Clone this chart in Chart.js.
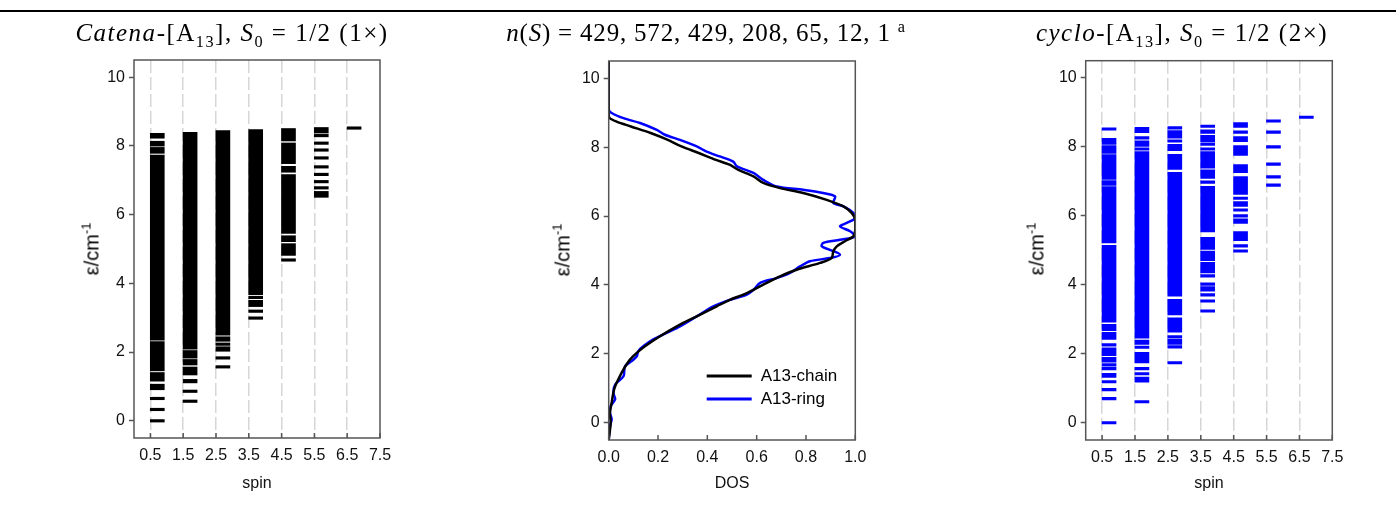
<!DOCTYPE html>
<html>
<head>
<meta charset="utf-8">
<script src="https://cdn.jsdelivr.net/npm/chart.js@4.4.1/dist/chart.umd.min.js"></script>
<style>
  body { margin: 0; background: #fff; }
  #page { position: relative; width: 1396px; height: 506px; overflow: hidden; background: #fff; }
  .rule { position: absolute; left: 0; top: 10px; width: 1396px; height: 2px; background: #000; }
  canvas { position: absolute; top: 0; }
  .title { position: absolute; top: 20px; line-height: 26px; transform: translateX(-50%); white-space: nowrap;
           font-family: "Liberation Serif", serif; font-size: 25px; letter-spacing: 1.5px; color: #000; }
  .title.wide { letter-spacing: 0.8px; }
  .ylab { position: absolute; transform: translate(-50%, -50%) rotate(-90deg); white-space: nowrap;
          font-family: "Liberation Sans", Arial, sans-serif; font-size: 20px; color: #000; }
  sub, sup { font-size: 65%; line-height: 0; }
</style>
</head>
<body>
<div id="page">
  <div class="rule"></div>
  <canvas id="chain" width="350" height="506" style="left:54px"></canvas>
  <canvas id="dos" width="350" height="506" style="left:530px"></canvas>
  <canvas id="ring" width="350" height="506" style="left:1006px"></canvas>

  <div class="title" style="left:232px"><i>Catena</i>-[A<sub>13</sub>], <i>S</i><sub>0</sub> = 1/2 (1×)</div>
  <div class="title wide" style="left:706px"><i>n</i>(<i>S</i>) = 429, 572, 429, 208, 65, 12, 1 <sup>a</sup></div>
  <div class="title" style="left:1182px"><i>cyclo</i>-[A<sub>13</sub>], <i>S</i><sub>0</sub> = 1/2 (2×)</div>

  <div class="ylab" style="left:92px; top:249px">ε/cm<sup>-1</sup></div>
  <div class="ylab" style="left:563px; top:250px">ε/cm<sup>-1</sup></div>
  <div class="ylab" style="left:1037px; top:249px">ε/cm<sup>-1</sup></div>
</div>
<script>
const FONT = '"Liberation Sans", Arial, sans-serif';

const SPINS = [0.5, 1.5, 2.5, 3.5, 4.5, 5.5, 6.5];
const SPIN_TICKS = [0.5, 1.5, 2.5, 3.5, 4.5, 5.5, 6.5, 7.5];
const ENERGY_TICKS = [0, 2, 4, 6, 8, 10];
const DOS_TICKS = [0, 0.2, 0.4, 0.6, 0.8, 1.0];

// energy levels (cm-1) per spin; a pair is a run of levels too dense to tell apart
const chainLevels = [
  [0, 0.33, 0.65, [0.94, 1.03], [1.19, 1.37], [1.49, 2.27], [2.38, 7.70], [7.82, 7.92], [8.03, 8.10], [8.26, 8.33]],
  [0.57, 0.86, [1.14, 1.17], [1.37, 1.53], [1.66, 1.75], [1.86, 2.01], [2.12, 8.36]],
  [1.57, 1.83, [2.06, 2.12], 2.23, [2.35, 2.41], [2.53, 8.41]],
  [2.99, 3.19, [3.36, 3.47], 3.59, [3.71, 8.44]],
  [4.68, [4.85, 5.12], [5.25, 5.35], [5.49, 7.13], [7.27, 7.37], [7.52, 8.05], [8.18, 8.47]],
  [[6.54, 6.64], 6.78, 6.96, 7.17, 7.39, 7.65, 7.88, 8.08, 8.30, [8.41, 8.50]],
  [8.52],
];

const ringLevels = [
  [0, 0.70, 0.96, 1.19, [1.35, 1.40], 1.57, 1.68, [1.79, 1.86], [1.98, 2.14], 2.26, [2.45, 2.59], [2.71, 2.82],
   [2.95, 5.11], [5.25, 6.81], [6.92, 6.99], [7.09, 7.74], [7.85, 8.00], [8.11, 8.21], 8.52],
  [0.61, [1.21, 1.29], 1.42, 1.57, [1.77, 2.01], 2.19, [2.31, 2.36], [2.49, 7.83], 7.94, [8.05, 8.14], 8.26, [8.45, 8.53]],
  [1.74, 2.20, [2.31, 2.38], 2.49, [2.66, 3.01], [3.16, 3.54], [3.71, 7.23], [7.38, 7.75], [7.93, 8.04], 8.17, [8.29, 8.44], 8.55],
  [3.24, 3.53, 3.71, [3.85, 3.91], 4.02, 4.26, [4.38, 4.62], [4.74, 4.94], [5.06, 5.34], [5.57, 6.82], 6.98,
   [7.12, 7.30], [7.42, 7.83], 7.94, 8.08, [8.19, 8.30], [8.43, 8.46], 8.60],
  [4.98, 5.13, [5.32, 5.51], [5.82, 5.88], 6.00, 6.17, [6.31, 6.38], 6.51, [6.66, 7.10], [7.29, 7.45], [7.79, 8.00],
   [8.19, 8.26], 8.43, [8.60, 8.67]],
  [6.89, 7.13, 7.50, 8.00, 8.43, 8.75],
  [8.86],
];

// density of states, normalised, read along energy
const chainEnergy = [10.5, 8.95, 8.84, 8.74, 8.6, 8.41, 8.21, 8.02, 7.83, 7.63, 7.49, 7.34, 7.15, 6.96, 6.81, 6.67,
  6.47, 6.28, 6.09, 5.89, 5.6, 5.41, 5.27, 5.12, 4.98, 4.78, 4.64, 4.44, 4.25, 4.06, 3.86, 3.72, 3.57, 3.38,
  3.09, 2.8, 2.51, 2.22, 2.03, 1.84, 1.55, 1.26, 0.97, 0.58, 0.29, 0, -0.5];
const chainDos = [0, 0, 0.004, 0.032, 0.09, 0.17, 0.24, 0.295, 0.365, 0.435, 0.49, 0.526, 0.587, 0.627, 0.695, 0.789,
  0.884, 0.952, 0.985, 1.0, 1.0, 0.992, 0.958, 0.925, 0.911, 0.904, 0.857, 0.762, 0.695, 0.641, 0.587, 0.546, 0.492, 0.438,
  0.357, 0.276, 0.208, 0.147, 0.114, 0.087, 0.06, 0.039, 0.022, 0.012, 0.005, 0.008, 0];

const ringEnergy = [10.5, 9.1, 8.99, 8.84, 8.7, 8.5, 8.36, 8.21, 8.02, 7.87, 7.73, 7.58, 7.44, 7.25, 7.05, 6.86,
  6.76, 6.67, 6.57, 6.38, 6.28, 6.09, 5.94, 5.8, 5.7, 5.56, 5.41, 5.31, 5.22, 5.12, 5.02, 4.88, 4.78, 4.69,
  4.54, 4.35, 4.2, 4.06, 3.86, 3.72, 3.57, 3.38, 3.09, 2.8, 2.61, 2.42, 2.22, 2.08, 1.93, 1.79, 1.64, 1.35,
  1.11, 0.87, 0.68, 0.48, 0.29, 0.1, -0.1, -0.5];
const ringDos = [0, 0, 0.012, 0.06, 0.127, 0.195, 0.228, 0.289, 0.357, 0.397, 0.45, 0.505, 0.52, 0.587, 0.627, 0.681,
  0.789, 0.87, 0.918, 0.911, 0.952, 0.992, 1.0, 0.965, 0.938, 0.979, 1.0, 0.938, 0.87, 0.864, 0.897, 0.938, 0.897, 0.816,
  0.776, 0.735, 0.681, 0.614, 0.587, 0.56, 0.492, 0.424, 0.357, 0.289, 0.235, 0.181, 0.14, 0.12, 0.114, 0.093, 0.066, 0.06,
  0.026, 0.019, 0.026, 0.008, 0.005, 0.012, 0.005, 0];

const LINE_HALF = 0.036;  // half the drawn thickness of one level, cm-1
const BAR_SHIFT = 0.21;   // levels sit just right of their spin tick

function levelBars(levels) {
  const out = [];
  levels.forEach((list, i) => {
    list.forEach((l) => {
      const lo = Array.isArray(l) ? l[0] : l;
      const hi = Array.isArray(l) ? l[1] : l;
      out.push({ x: SPINS[i] + BAR_SHIFT, y: [lo - LINE_HALF, hi + LINE_HALF] });
    });
  });
  return out;
}

const framePlugin = {
  id: "frame",
  afterDraw(chart) {
    const { ctx, chartArea: a, scales } = chart;
    ctx.save();
    ctx.strokeStyle = "#555";
    ctx.lineWidth = 1.5;
    ctx.strokeRect(a.left, a.top, a.right - a.left, a.bottom - a.top);
    ctx.beginPath();
    scales.x.ticks.forEach((t) => {
      const px = scales.x.getPixelForValue(t.value);
      ctx.moveTo(px, a.bottom);
      ctx.lineTo(px, a.bottom - 5);
    });
    ctx.stroke();
    ctx.restore();
  },
};

const dosLegend = {
  id: "dosLegend",
  afterDraw(chart) {
    const { ctx, chartArea: a } = chart;
    ctx.save();
    chart.data.datasets.forEach((ds, i) => {
      const y = a.bottom - 64 + i * 23;
      ctx.strokeStyle = ds.borderColor;
      ctx.lineWidth = 3;
      ctx.beginPath();
      ctx.moveTo(a.left + 98, y);
      ctx.lineTo(a.left + 143, y);
      ctx.stroke();
      ctx.fillStyle = "#000";
      ctx.font = "17px " + FONT;
      ctx.textBaseline = "middle";
      ctx.fillText(ds.label, a.left + 152, y);
    });
    ctx.restore();
  },
};

function energyScale(width) {
  return {
    type: "linear",
    min: -0.5,
    max: 10.5,
    afterBuildTicks: (s) => { s.ticks = ENERGY_TICKS.map((v) => ({ value: v })); },
    afterFit: (s) => { s.width = width; },
    grid: { drawOnChartArea: false, drawTicks: true, tickLength: 5, tickColor: "#555", tickWidth: 1.5 },
    border: { display: false },
    ticks: { color: "#111", font: { family: FONT, size: 16 }, padding: 4, callback: (v) => String(v) },
  };
}

function bottomScale(height, min, max, ticks, fmt, label, gridOn) {
  return {
    type: "linear",
    min,
    max,
    offset: false,
    afterBuildTicks: (s) => { s.ticks = ticks.map((v) => ({ value: v })); },
    afterFit: (s) => { s.height = height; },
    grid: {
      offset: false,
      drawTicks: false,
      drawOnChartArea: gridOn,
      lineWidth: 1.5,
      color: (c) => (c.tick && c.tick.value < max ? "#d6d6d6" : "transparent"),
    },
    border: { display: false, dash: [13, 4] },
    ticks: { color: "#111", font: { family: FONT, size: 16 }, padding: 8, maxRotation: 0, autoSkip: false, callback: fmt },
    title: { display: true, text: label, color: "#111", font: { family: FONT, size: 16 }, padding: { top: 0, bottom: 13 } },
  };
}

function levelChart(id, levels, color, yWidth, xHeight, padTop, padRight) {
  return new Chart(document.getElementById(id), {
    type: "bar",
    data: {
      datasets: [{
        data: levelBars(levels),
        backgroundColor: color,
        borderWidth: 0,
        barThickness: 14,
        grouped: false,
      }],
    },
    options: {
      responsive: false,
      animation: false,
      layout: { padding: { top: padTop, right: padRight, left: 0, bottom: 0 } },
      plugins: { legend: { display: false }, tooltip: { enabled: false } },
      scales: {
        x: bottomScale(xHeight, 0, 7.5, SPIN_TICKS, (v) => v.toFixed(1), "spin", true),
        y: energyScale(yWidth),
      },
    },
    plugins: [framePlugin],
  });
}

levelChart("chain", chainLevels, "#000000", 80, 68, 60, 24);
levelChart("ring", ringLevels, "#0000ff", 79.7, 66, 60.7, 23.7);

new Chart(document.getElementById("dos"), {
  type: "scatter",
  data: {
    datasets: [
      {
        label: "A13-chain",
        data: chainEnergy.map((e, i) => ({ x: chainDos[i], y: e })),
        borderColor: "#000000",
      },
      {
        label: "A13-ring",
        data: ringEnergy.map((e, i) => ({ x: ringDos[i], y: e })),
        borderColor: "#0000ff",
      },
    ],
  },
  options: {
    responsive: false,
    animation: false,
    showLine: true,
    elements: { point: { radius: 0 }, line: { borderWidth: 2.5, tension: 0.3 } },
    layout: { padding: { top: 61, right: 24.7, left: 0, bottom: 0 } },
    plugins: { legend: { display: false }, tooltip: { enabled: false } },
    scales: {
      x: bottomScale(66, 0, 1, DOS_TICKS, (v) => v.toFixed(1), "DOS", false),
      y: energyScale(78.7),
    },
  },
  plugins: [framePlugin, dosLegend],
});
</script>
</body>
</html>
